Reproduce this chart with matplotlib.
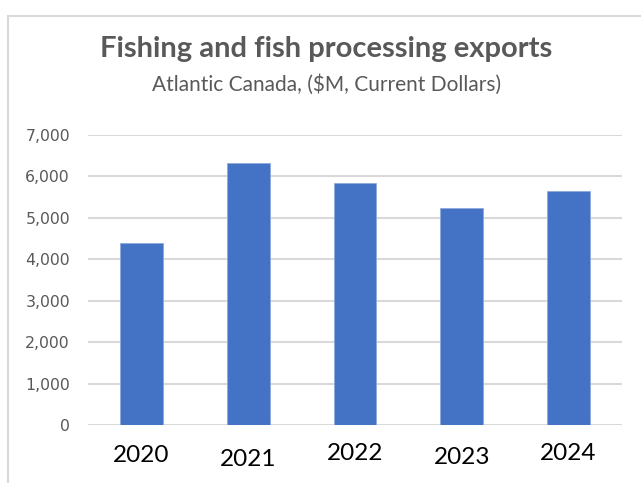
import matplotlib
matplotlib.use("Agg")
import matplotlib.pyplot as plt
from matplotlib.patches import Rectangle
import matplotlib.transforms as mtransforms

years = ["2020", "2021", "2022", "2023", "2024"]
exports = [4380, 6320, 5830, 5225, 5640]
yticks = [0, 1000, 2000, 3000, 4000, 5000, 6000, 7000]
ytick_labels = ["0", "1,000", "2,000", "3,000", "4,000", "5,000", "6,000", "7,000"]
title = "Fishing and fish processing exports"
subtitle = "Atlantic Canada, ($M, Current Dollars)"

W, H = 641, 483
fig = plt.figure(figsize=(W / 100, H / 100), dpi=100)
fig.patch.set_facecolor("white")

# outer chart border (cut off at right and bottom)
fig.patches.append(Rectangle((8 / W, -0.1), 1.2, 1 - 16 / H + 0.1, transform=fig.transFigure,
                             fill=False, edgecolor="#d9d9d9", linewidth=1.5))

ax = fig.add_axes([88 / W, 1 - 425 / H, (622 - 88) / W, (425 - 134.7) / H])
x = list(range(len(years)))
ax.bar(x, exports, width=0.4, color="#4472C4", edgecolor="#8FAADC", linewidth=0.6, zorder=3)
ax.set_xlim(-0.5, len(years) - 0.5)
ax.set_ylim(0, 7000)
ax.set_yticks(yticks)
ax.set_yticklabels(ytick_labels, fontfamily="DejaVu Sans", fontsize=11.3, color="#595959")
ax.tick_params(axis="y", length=0, pad=13)
ax.set_xticks([])
ax.grid(axis="y", color="#d9d9d9", linewidth=1.5, zorder=0)
for s in ax.spines.values():
    s.set_visible(False)

# year labels, placed individually as in the original
label_y = [456, 459, 453, 457, 453]
trans = mtransforms.blended_transform_factory(ax.transData, fig.transFigure)
for xi, lab, ly in zip(x, years, label_y):
    ax.text(xi, 1 - ly / H, lab, transform=trans, ha="center", va="center",
            fontfamily="Lato", fontsize=17.5, color="black", clip_on=False)

fig.text(326 / W, 1 - 49 / H, title, ha="center", va="center",
         fontfamily="Lato", fontweight="bold", fontsize=21, color="#595959")
fig.text(327 / W, 1 - 85 / H, subtitle, ha="center", va="center",
         fontfamily="Lato", fontsize=15, color="#595959")

fig.savefig("out.png", dpi=100)
